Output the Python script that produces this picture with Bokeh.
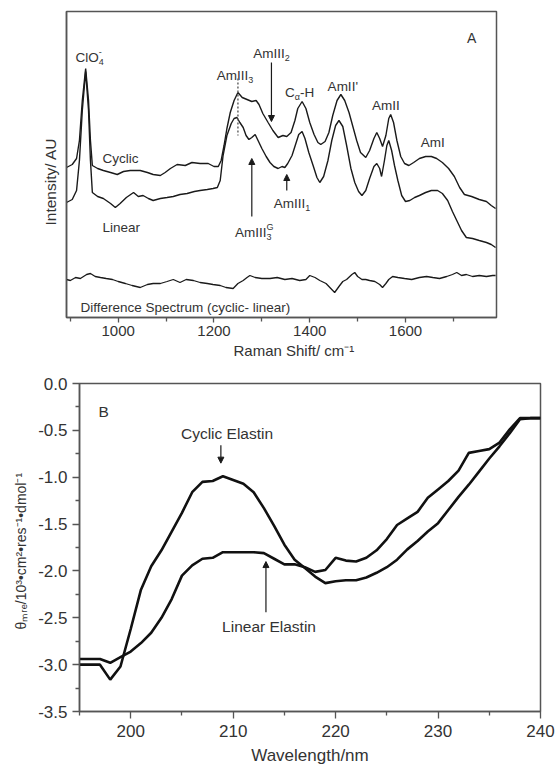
import math
from bokeh.plotting import figure
from bokeh.models import Range1d, FixedTicker, PrintfTickFormatter, Label, Arrow, NormalHead, Title
from bokeh.layouts import column
from bokeh.embed import file_html
from bokeh.resources import INLINE

# ---------------- Panel A: Raman spectra ----------------
cyclic_shift = [892, 904, 913, 919, 925, 932, 938, 942, 946, 957,
                969, 984, 998, 1011, 1025, 1046, 1061, 1073, 1088, 1098,
                1109, 1123, 1140, 1154, 1171, 1188, 1200, 1209, 1215, 1221,
                1227, 1234, 1242, 1250, 1259, 1269, 1279, 1288, 1294, 1302,
                1313, 1323, 1334, 1344, 1352, 1361, 1369, 1375, 1384, 1392,
                1400, 1409, 1417, 1423, 1432, 1440, 1448, 1457, 1465, 1473,
                1482, 1490, 1498, 1506, 1517, 1525, 1534, 1540, 1546, 1552,
                1559, 1565, 1569, 1575, 1582, 1590, 1598, 1607, 1617, 1629,
                1642, 1654, 1665, 1677, 1690, 1702, 1713, 1723, 1738, 1754,
                1769, 1779, 1788]
cyclic_int = [150, 153, 159, 177, 217, 249, 217, 177, 152, 149,
              147, 145, 143, 146, 147, 147, 145, 143, 142, 145,
              149, 153, 152, 155, 154, 154, 151, 151, 157, 172,
              189, 205, 217, 225, 220, 218, 216, 217, 213, 204,
              195, 187, 180, 182, 181, 185, 197, 209, 216, 209,
              195, 183, 175, 173, 176, 185, 202, 217, 223, 217,
              205, 191, 177, 165, 160, 167, 179, 185, 179, 171,
              182, 199, 203, 195, 177, 161, 154, 152, 155, 159,
              161, 161, 159, 155, 149, 141, 130, 123, 121, 118,
              116, 112, 109]

linear_shift = [892, 904, 913, 919, 925, 932, 938, 942, 946, 957,
                969, 984, 994, 1004, 1017, 1032, 1042, 1052, 1063, 1073,
                1088, 1102, 1115, 1129, 1144, 1159, 1171, 1186, 1198, 1207,
                1213, 1219, 1227, 1236, 1242, 1248, 1254, 1261, 1267, 1273,
                1279, 1286, 1292, 1300, 1309, 1317, 1325, 1334, 1342, 1348,
                1354, 1363, 1371, 1377, 1384, 1390, 1398, 1407, 1415, 1421,
                1429, 1438, 1446, 1454, 1461, 1469, 1477, 1486, 1494, 1502,
                1509, 1517, 1525, 1534, 1540, 1546, 1550, 1556, 1561, 1565,
                1571, 1577, 1584, 1592, 1600, 1609, 1619, 1629, 1642, 1654,
                1667, 1677, 1688, 1698, 1707, 1717, 1727, 1740, 1754, 1769,
                1779, 1788]
linear_int = [115, 118, 127, 157, 207, 246, 207, 157, 125, 121,
              119, 114, 110, 114, 120, 125, 121, 122, 119, 117,
              119, 120, 121, 123, 124, 126, 127, 128, 129, 130,
              137, 162, 182, 194, 199, 200, 195, 190, 182, 178,
              180, 183, 177, 169, 161, 155, 151, 149, 151, 150,
              154, 162, 174, 183, 186, 179, 165, 152, 140, 135,
              141, 157, 177, 192, 197, 191, 172, 149, 135, 126,
              122, 127, 139, 151, 154, 149, 141, 157, 172, 177,
              167, 152, 137, 122, 116, 117, 120, 122, 125, 127,
              127, 124, 117, 106, 97, 87, 80, 79, 77, 75,
              73, 70]

diff_shift = [892, 900, 911, 921, 934, 942, 952, 963, 975, 988,
              1000, 1015, 1029, 1046, 1061, 1073, 1088, 1102, 1115, 1129,
              1142, 1157, 1171, 1186, 1198, 1213, 1225, 1240, 1250, 1261,
              1269, 1275, 1286, 1300, 1317, 1332, 1348, 1363, 1379, 1392,
              1400, 1411, 1421, 1434, 1444, 1452, 1461, 1469, 1477, 1488,
              1494, 1500, 1509, 1517, 1525, 1536, 1546, 1552, 1559, 1565,
              1573, 1584, 1598, 1613, 1629, 1644, 1657, 1671, 1686, 1698,
              1707, 1717, 1727, 1740, 1754, 1769, 1782, 1788]
diff_int = [38, 37, 40, 39, 43, 44, 41, 40, 39, 38,
            36, 34, 32, 30, 33, 34, 34, 36, 38, 35,
            38, 37, 35, 34, 33, 32, 30, 29, 34, 37,
            40, 42, 40, 39, 39, 40, 38, 39, 37, 38,
            42, 40, 37, 34, 29, 25, 31, 36, 38, 43,
            45, 41, 38, 38, 37, 36, 33, 30, 34, 38,
            41, 40, 39, 38, 40, 41, 40, 39, 41, 43,
            45, 42, 43, 41, 42, 41, 42, 42]

raman_major_ticks = [1000, 1200, 1400, 1600]
raman_minor_ticks = [900, 1100, 1300, 1500, 1700]

# ---------------- Panel B: CD spectra ----------------
wavelength = list(range(195, 241))
cd_cyclic = [-3.00, -3.00, -3.00, -3.16, -3.02, -2.62, -2.20, -1.95, -1.78, -1.58,
             -1.38, -1.16, -1.05, -1.04, -0.99, -1.03, -1.07, -1.16, -1.33, -1.52,
             -1.72, -1.88, -1.97, -2.06, -2.13, -2.11, -2.10, -2.10, -2.07, -2.02,
             -1.96, -1.88, -1.77, -1.68, -1.58, -1.49, -1.35, -1.21, -1.08, -0.94,
             -0.80, -0.67, -0.53, -0.38, -0.37, -0.37]
cd_linear = [-2.94, -2.94, -2.94, -2.98, -2.92, -2.86, -2.77, -2.66, -2.50, -2.30,
             -2.05, -1.94, -1.87, -1.86, -1.80, -1.80, -1.80, -1.80, -1.81, -1.87,
             -1.93, -1.93, -1.96, -2.01, -1.99, -1.86, -1.89, -1.90, -1.86, -1.78,
             -1.66, -1.51, -1.44, -1.37, -1.22, -1.13, -1.04, -0.93, -0.74, -0.72,
             -0.70, -0.63, -0.49, -0.37, -0.37, -0.37]
cd_x_ticks = [200, 210, 220, 230, 240]
cd_x_minor = [195, 205, 215, 225, 235]
cd_y_ticks = [0.0, -0.5, -1.0, -1.5, -2.0, -2.5, -3.0, -3.5]
cd_y_minor = [-0.25, -0.75, -1.25, -1.75, -2.25, -2.75, -3.25]

# ---------------- styling helpers ----------------
FONT = "Liberation Sans"
TXT = "#333333"
LINE = "#1a1a1a"
FRAME = "#555555"

W = {' ': .278, '(': .333, ')': .333, '-': .333, '/': .278, '.': .278, "'": .191,
     '•': .35, 'θ': .556, 'α': .578,
     'A': .667, 'B': .667, 'C': .722, 'D': .722, 'E': .667, 'G': .778, 'H': .722,
     'I': .278, 'L': .556, 'M': .833, 'O': .778, 'R': .722, 'S': .667, 'U': .722,
     'W': .944, 'a': .556, 'c': .5, 'd': .556, 'e': .556, 'f': .278, 'g': .556,
     'h': .556, 'i': .222, 'l': .222, 'm': .833, 'n': .556, 'o': .556, 'p': .556,
     'r': .333, 's': .5, 't': .278, 'u': .556, 'v': .5, 'y': .5}


def tw(s, size):
    return sum(W.get(c, .556) for c in s) * size


def lab(p, x, y, text, size, xo=0.0, yo=0.0, angle=0.0):
    p.add_layout(Label(x=x, y=y, x_offset=xo, y_offset=yo, text=text,
                       text_font=FONT, text_font_size=f"{size}px", text_color=TXT,
                       text_align="left", text_baseline="alphabetic", angle=angle))


def rich(p, x, y, parts, align="center"):
    total = sum(tw(pt[0], pt[1]) for pt in parts if (len(pt) < 4 or pt[3]))
    pos = -total / 2 if align == "center" else 0.0
    for pt in parts:
        t, s, r = pt[0], pt[1], pt[2]
        adv = pt[3] if len(pt) > 3 else True
        lab(p, x, y, t, s, xo=pos, yo=r)
        if adv:
            pos += tw(t, s)


def arrow(p, x0, y0, x1, y1, size=6, lw=1.2):
    p.add_layout(Arrow(end=NormalHead(size=size, fill_color=LINE, line_color=LINE, line_width=1),
                       x_start=x0, y_start=y0, x_end=x1, y_end=y1,
                       line_color=LINE, line_width=lw))


def side_title(p, text, where, size, offset, standoff):
    p.add_layout(Title(text=text, align="left", offset=offset, standoff=standoff,
                       text_font=FONT, text_font_size=f"{size}px", text_font_style="normal",
                       text_color=TXT), where)


def style(p, tick_size):
    p.xgrid.visible = False
    p.ygrid.visible = False
    p.outline_line_color = FRAME
    p.outline_line_width = 1.5
    p.background_fill_color = "white"
    p.border_fill_color = "white"
    for ax in (p.xaxis[0], p.yaxis[0]):
        ax.axis_line_color = FRAME
        ax.axis_line_width = 1.5
        ax.major_tick_line_color = FRAME
        ax.minor_tick_line_color = FRAME
        ax.major_tick_line_width = 1.3
        ax.minor_tick_line_width = 1.3
        ax.major_tick_in = 0
        ax.minor_tick_in = 0
        ax.major_label_text_font = FONT
        ax.major_label_text_font_size = f"{tick_size}px"
        ax.major_label_text_color = TXT
        ax.axis_label_text_font = FONT
        ax.axis_label_text_font_style = "normal"
        ax.axis_label_text_color = TXT


# ---------------- Panel A figure ----------------
p1 = figure(width=556, height=360, x_range=Range1d(892, 1790), y_range=Range1d(0, 306),
            min_border_left=66, min_border_right=60, min_border_top=11, min_border_bottom=43,
            frame_align=False, toolbar_location=None, output_backend="svg")
style(p1, 15)
p1.xaxis.ticker = FixedTicker(ticks=raman_major_ticks, minor_ticks=raman_minor_ticks)
p1.xaxis.major_tick_out = 5
p1.xaxis.minor_tick_out = 4
p1.xaxis.major_label_standoff = 3
p1.yaxis.ticker = FixedTicker(ticks=[])
p1.yaxis.major_tick_out = 0
p1.yaxis.minor_tick_out = 0

p1.line(cyclic_shift, cyclic_int, line_color=LINE, line_width=1.4)
p1.line(linear_shift, linear_int, line_color=LINE, line_width=1.4)
p1.line(diff_shift, diff_int, line_color=LINE, line_width=1.3)

A = 13.5
S = 9
rich(p1, 938, 260, [("ClO", A, 0), ("4", S, -4, False), ("-", S, 6)])
rich(p1, 1244, 242, [("AmIII", A, 0), ("3", S, -4)])
rich(p1, 1320, 264, [("AmIII", A, 0), ("2", S, -4)])
rich(p1, 1379, 225, [("C", A, 0), ("α", S, -4), ("-H", A, 0)])
rich(p1, 1469, 231, [("AmII'", A, 0)])
rich(p1, 1559, 212, [("AmII", A, 0)])
rich(p1, 1657, 175, [("AmI", A, 0)])
rich(p1, 1738, 280, [("A", 14, 0)])
rich(p1, 967, 159, [("Cyclic", A, 0)], align="left")
rich(p1, 967, 90, [("Linear", A, 0)], align="left")
rich(p1, 1244, 85, [("AmIII", A, 0), ("3", S, -4, False), ("G", S, 6)], align="left")
rich(p1, 1325, 114, [("AmIII", A, 0), ("1", S, -4)], align="left")
rich(p1, 921, 10, [("Difference Spectrum (cyclic- linear)", A, 0)], align="left")

# AmIII3 dotted marker, arrows
p1.add_layout(Arrow(end=None, x_start=1250, y_start=239, x_end=1250, y_end=182,
                    line_color="#666666", line_width=1.5, line_dash="2 2"))
arrow(p1, 1320, 255, 1320, 196)
arrow(p1, 1279, 101, 1279, 159)
arrow(p1, 1352, 127, 1352, 143)

# axis titles
side_title(p1, "Raman Shift/ cm⁻¹", "below", 15, 167, 3)
side_title(p1, "Intensity/ AU", "left", 15.5, 92, 15)

# ---------------- Panel B figure ----------------
p2 = figure(width=556, height=407, x_range=Range1d(195, 240), y_range=Range1d(-3.5, 0),
            min_border_left=79, min_border_right=16, min_border_top=23, min_border_bottom=55,
            frame_align=False, toolbar_location=None, output_backend="svg")
style(p2, 17)
p2.xaxis.ticker = FixedTicker(ticks=cd_x_ticks, minor_ticks=cd_x_minor)
p2.yaxis.ticker = FixedTicker(ticks=cd_y_ticks, minor_ticks=cd_y_minor)
p2.yaxis.formatter = PrintfTickFormatter(format="%.1f")
for ax in (p2.xaxis[0], p2.yaxis[0]):
    ax.major_tick_out = 7
    ax.minor_tick_out = 4
    ax.major_label_standoff = 5
p2.xaxis.major_label_standoff = 6
p2.xaxis.axis_label = "Wavelength/nm"
p2.xaxis.axis_label_text_font_size = "17px"
p2.xaxis.axis_label_standoff = 6

p2.line(wavelength, cd_cyclic, line_color="#111111", line_width=2.6)
p2.line(wavelength, cd_linear, line_color="#111111", line_width=2.6)

rich(p2, 196.86, -0.298, [("B", 15.5, 0)], align="left")
rich(p2, 209.4, -0.532, [("Cyclic Elastin", 15.5, 0)])
rich(p2, 213.5, -2.596, [("Linear Elastin", 15.5, 0)])
arrow(p2, 208.8, -0.66, 208.8, -0.85, size=6)
arrow(p2, 213.2, -2.44, 213.2, -1.90, size=6)

side_title(p2, "θₘᵣₑ/10³•cm²•res⁻¹•dmol⁻¹", "left", 14, 82, 13)

layout = column(p1, p2)
open("out.html", "w").write(file_html(layout, INLINE))
